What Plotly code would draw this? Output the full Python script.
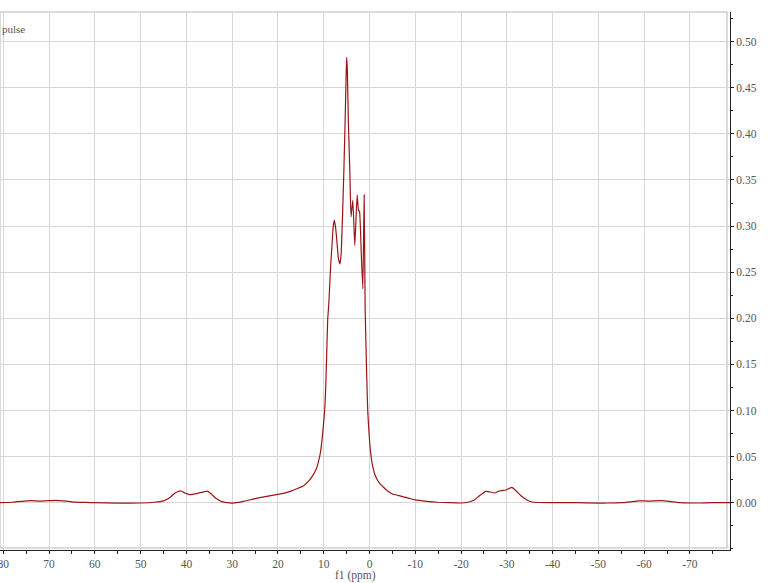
import plotly.graph_objects as go

# Chemical shift (ppm) and intensity
ppm = [80.7, 78, 76, 74, 72, 70, 68.5, 67, 65, 62, 60, 55, 50, 47, 45, 43.5, 42.5,
       41.3, 40.3, 39.3, 37.5, 36.2, 35.4, 34.5, 33.5, 32.3, 31.2, 30, 27.5, 25, 22.5,
       20, 18, 17.3, 15.5, 14.4, 13.2, 12.2, 11.6, 11.1, 10.7, 10.4, 10.1, 9.8, 9.6,
       9.43, 9.14, 8.9, 8.7, 8.45, 8.19, 7.95, 7.68, 7.4, 7.1, 6.8, 6.44, 6.2, 5.9,
       5.6, 5.3, 5.1, 4.98, 4.85, 4.6, 4.3, 4.04, 3.65, 3.21, 2.7, 2.41, 2.19, 1.8,
       1.46, 1.17, 0.95, 0.66, 0.39, 0.1, -0.07, -0.3, -0.6, -1.2, -2.05, -3, -3.9,
       -5, -6.8, -8.5, -10, -12.5, -15, -17.5, -20, -21.5, -22.9, -24, -25.4, -26.3,
       -27.3, -28, -28.7, -29.8, -31.1, -32, -33.1, -34.2, -35.3, -37, -40, -45, -50,
       -52, -55, -57, -58.7, -61, -63.8, -65.5, -68, -72, -75, -78.8]
intensity = [0.0, 0.0005, 0.0015, 0.0022, 0.0018, 0.0022, 0.0026, 0.002, 0.001, 0.0003,
             0.0, -0.0005, -0.0003, 0.0005, 0.002, 0.006, 0.0105,
             0.0128, 0.0105, 0.0088, 0.0102, 0.0118, 0.0125, 0.009, 0.0045, 0.0012, 0.0,
             -0.0004, 0.0015, 0.0045, 0.0068,
             0.009, 0.0112, 0.0123, 0.016, 0.0185, 0.024, 0.031, 0.037, 0.0457, 0.055,
             0.067, 0.082, 0.1, 0.12,
             0.147, 0.198, 0.215, 0.235, 0.26, 0.28, 0.298, 0.3065, 0.298, 0.282, 0.265,
             0.259, 0.27, 0.31,
             0.36, 0.42, 0.465, 0.483, 0.47, 0.41, 0.36, 0.31, 0.328, 0.279, 0.334, 0.317,
             0.316, 0.27,
             0.232, 0.334, 0.21, 0.147, 0.1, 0.075, 0.064, 0.052, 0.042, 0.03, 0.022, 0.017,
             0.013,
             0.0095, 0.0072, 0.005, 0.003, 0.0015, 0.0005, 0.0, -0.0003, 0.0005, 0.003,
             0.0075, 0.0123, 0.0118,
             0.0105, 0.012, 0.013, 0.0138, 0.0167, 0.013, 0.0076, 0.0035, 0.001, 0.0002,
             0.0001, 0.0, -0.0004,
             -0.0003, 0.0, 0.001, 0.002, 0.0018, 0.0022, 0.0015, 0.0, -0.0003, 0.0, 0.0]

x_ticks = [80, 70, 60, 50, 40, 30, 20, 10, 0, -10, -20, -30, -40, -50, -60, -70]
y_ticks = [0.0, 0.05, 0.10, 0.15, 0.20, 0.25, 0.30, 0.35, 0.40, 0.45, 0.50]
y_labels = ["0.00", "0.05", "0.10", "0.15", "0.20", "0.25", "0.30", "0.35", "0.40",
            "0.45", "0.50"]

FONT = "Liberation Serif"

fig = go.Figure()
fig.add_trace(go.Scatter(
    x=ppm, y=intensity, mode="lines",
    line=dict(color="#9a1616", width=1.2, shape="spline", smoothing=0.4),
    showlegend=False, hoverinfo="x+y"))

fig.update_layout(
    width=769, height=583,
    margin=dict(l=0, r=39, t=12, b=33, autoexpand=False),
    paper_bgcolor="white", plot_bgcolor="white",
    font=dict(family=FONT, size=11, color="#444"),
    xaxis=dict(
        range=[80.72, -78.75], tickvals=x_ticks, ticktext=[str(v) for v in x_ticks],
        automargin=False,
        showgrid=True, gridcolor="#d6d6d6", gridwidth=1, zeroline=False,
        showline=True, linecolor="#222", linewidth=1,
        ticks="outside", ticklen=3, tickcolor="#222",
        minor=dict(dtick=5, tick0=0, ticks="outside", ticklen=3, tickcolor="#222",
                   showgrid=False),
        ticklabeloverflow="allow",
        tickfont=dict(family=FONT, size=11.5, color="#555"),
    ),
    yaxis=dict(
        range=[-0.0513, 0.5322], side="right", tickvals=y_ticks, ticktext=y_labels,
        automargin=False,
        showgrid=True, gridcolor="#d6d6d6", gridwidth=1, zeroline=False,
        showline=True, linecolor="#222", linewidth=1,
        ticks="outside", ticklen=3, tickcolor="#222",
        minor=dict(dtick=0.025, tick0=0, ticks="outside", ticklen=2, tickcolor="#222",
                   showgrid=False),
        ticklabeloverflow="allow",
        tickfont=dict(family=FONT, size=11.5, color="#555"),
    ),
    shapes=[dict(type="rect", xref="paper", yref="paper", x0=0, x1=727 / 730,
                 y0=2 / 538, y1=1, line=dict(color="#d0d0d0", width=1.5),
                 layer="below")],
    annotations=[
        dict(text="pulse", xref="paper", yref="paper", x=0, y=(550 - 29) / 538,
             xanchor="left", yanchor="middle", showarrow=False,
             font=dict(family=FONT, size=11, color="#555")),
        dict(text="f1 (ppm)", xref="paper", yref="paper", x=355 / 730,
             y=(550 - 575) / 538, xanchor="center", yanchor="middle", showarrow=False,
             font=dict(family=FONT, size=11.5, color="#555")),
    ],
)

fig.write_html("out.html",
               config={"displayModeBar": False},
               post_script="document.body.style.margin='0';document.body.style.overflow='hidden';")
